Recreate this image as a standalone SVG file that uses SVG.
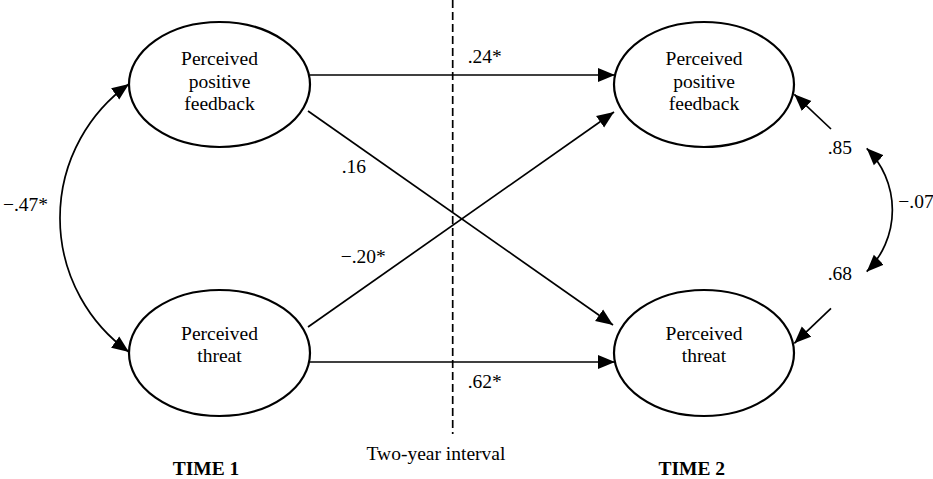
<svg xmlns="http://www.w3.org/2000/svg" width="933" height="479" viewBox="0 0 933 479">
<style>
text{font-family:"Liberation Serif","Times New Roman",serif;font-size:19.5px;fill:#000}
.c{text-anchor:middle}
.b{font-weight:bold}
.node ellipse{fill:#fff;stroke:#000;stroke-width:2.2}
.edge{fill:none;stroke:#000;stroke-width:1.7}
</style>
<defs>
<marker id="ah" markerUnits="userSpaceOnUse" markerWidth="18" markerHeight="15" refX="17" refY="7" orient="auto-start-reverse" viewBox="0 0 18 14">
<path d="M0,0 L17,7 L0,14 z" fill="#000"/>
</marker>
</defs>
<rect width="933" height="479" fill="#fff"/>
<line x1="452.7" y1="0" x2="452.7" y2="434" stroke="#000" stroke-width="1.7" stroke-dasharray="8,4"/>
<g id="connectors">
<path class="edge" d="M310,75 L615,75" marker-end="url(#ah)"/>
<path class="edge" d="M310,362 L615,362" marker-end="url(#ah)"/>
<path class="edge" d="M308,111 L613,325" marker-end="url(#ah)"/>
<path class="edge" d="M308,327 L614,112" marker-end="url(#ah)"/>
<path class="edge" d="M129,84 A164.6,164.6 0 0 0 129,352" marker-start="url(#ah)" marker-end="url(#ah)"/>
<path class="edge" d="M866.7,148.3 A87,87 0 0 1 866.7,271.7" marker-start="url(#ah)" marker-end="url(#ah)"/>
<path class="edge" d="M831,129 L794.3,94.3" marker-end="url(#ah)"/>
<path class="edge" d="M831,308.3 L794.3,343.3" marker-end="url(#ah)"/>
</g>
<g id="ppf1" class="node">
<ellipse cx="219.5" cy="84.5" rx="90.5" ry="62.5"/>
<text class="c" x="219.5" y="65">Perceived</text>
<text class="c" x="219.5" y="87.5">positive</text>
<text class="c" x="219.5" y="110">feedback</text>
</g>
<g id="pt1" class="node">
<ellipse cx="219.5" cy="353" rx="90.5" ry="63"/>
<text class="c" x="219.5" y="339.5">Perceived</text>
<text class="c" x="219.5" y="362">threat</text>
</g>
<g id="ppf2" class="node">
<ellipse cx="704" cy="84.5" rx="90" ry="62.5"/>
<text class="c" x="704" y="65">Perceived</text>
<text class="c" x="704" y="87.5">positive</text>
<text class="c" x="704" y="110">feedback</text>
</g>
<g id="pt2" class="node">
<ellipse cx="704" cy="353" rx="90" ry="63"/>
<text class="c" x="704" y="339.5">Perceived</text>
<text class="c" x="704" y="362">threat</text>
</g>
<g id="labels">
<text x="467.7" y="63">.24*</text>
<text x="341.7" y="173">.16</text>
<text x="340.7" y="263">−.20*</text>
<text x="467.7" y="387.7">.62*</text>
<text x="3" y="211">−.47*</text>
<text x="898.3" y="208.3">−.07</text>
<text x="827.7" y="154.3">.85</text>
<text x="827.7" y="280">.68</text>
<text class="c" x="436" y="460">Two-year interval</text>
<text class="c b" x="206" y="474.5">TIME 1</text>
<text class="c b" x="691.7" y="474.5">TIME 2</text>
</g>
</svg>
